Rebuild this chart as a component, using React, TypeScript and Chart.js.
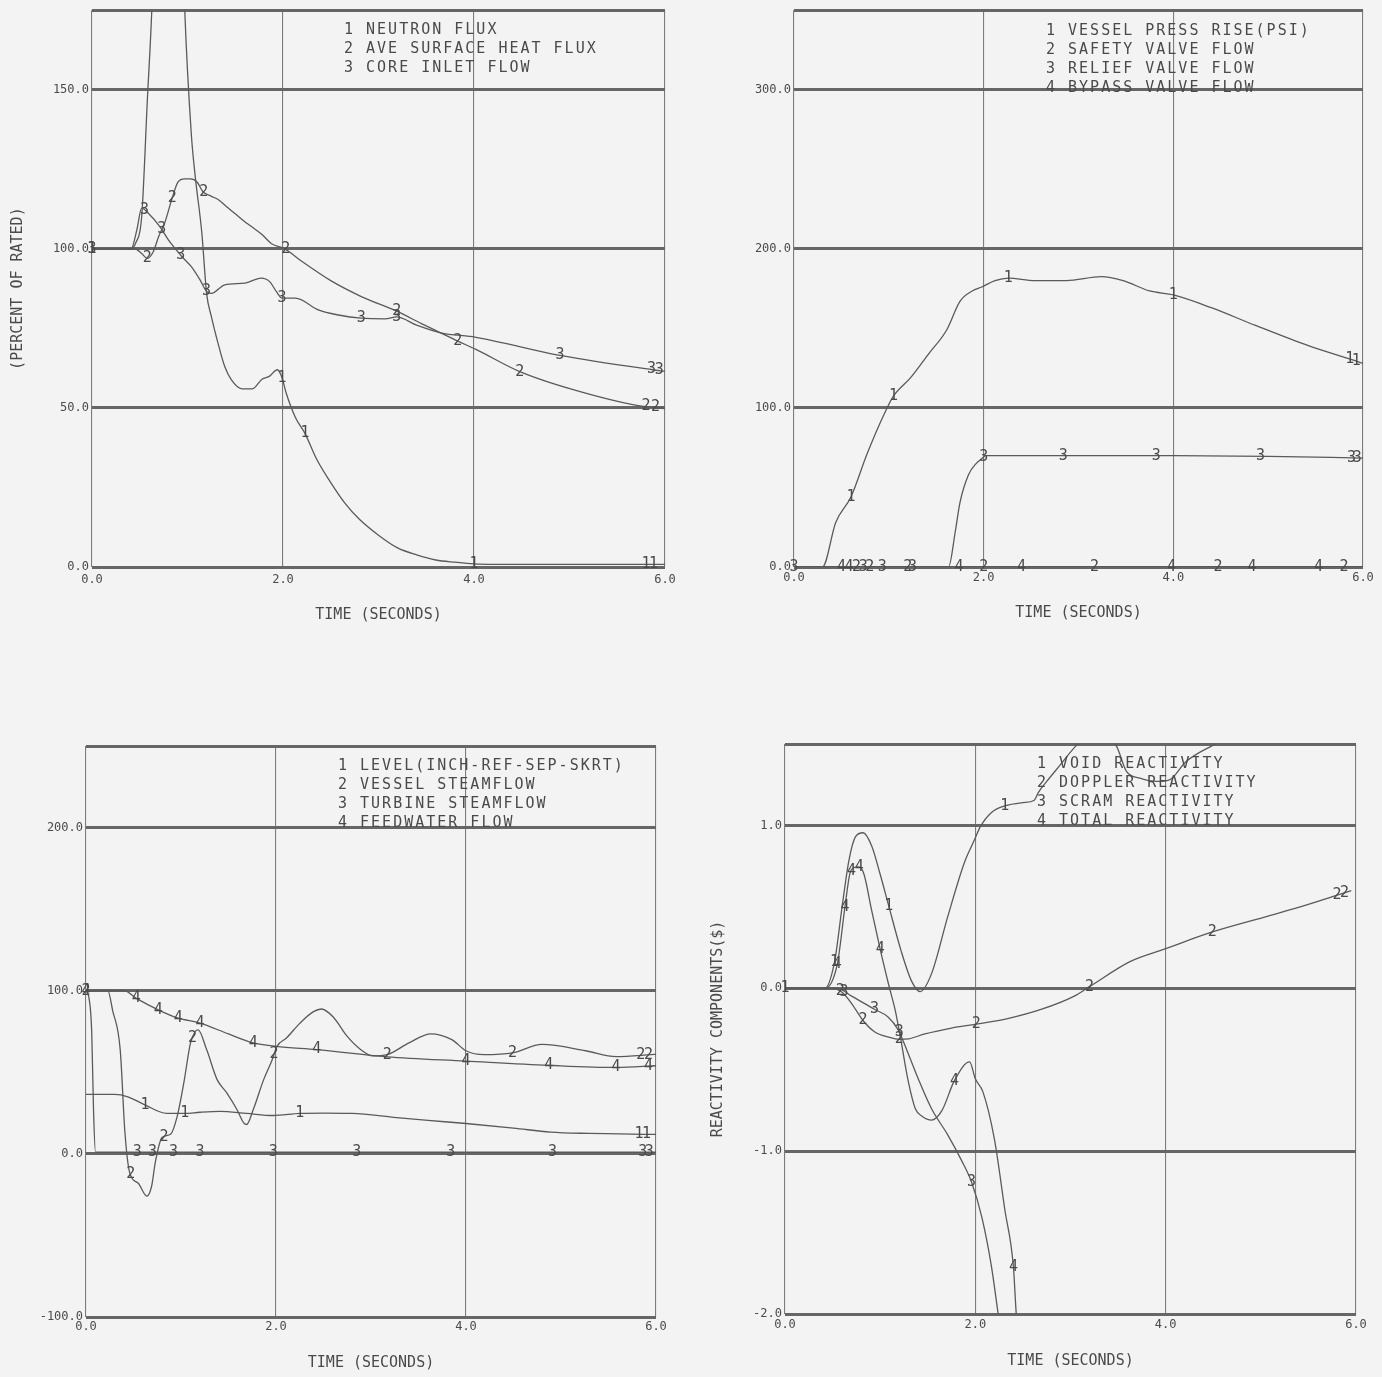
import React, { useEffect, useRef } from "react";
import { Chart, registerables } from "chart.js";

Chart.register(...registerables);

const MONO = "'DejaVu Sans Mono', 'Liberation Mono', monospace";
const INK = "#5a5a5a";
const TEXT = "#4a4a4a";
const GRID_H = "#666666";
const GRID_V = "#7c7c7c";
const PAPER = "#f3f3f3";

// ---------- shared ----------
const timeTicks = [0, 2, 4, 6];
const timeTitle = "TIME (SECONDS)";

// ---------- Panel 1 : power / flux / flow ----------
const p1Names = ["NEUTRON FLUX", "AVE SURFACE HEAT FLUX", "CORE INLET FLOW"];
const p1YTicks = [0, 50, 100, 150];
const p1YMin = 0;
const p1YMax = 175;
const p1YTitle = "(PERCENT OF RATED)";

const p1FluxT = [0, 0.4, 0.46, 0.52, 0.58, 0.63, 0.7, 0.8, 0.9, 0.97, 1.04, 1.08, 1.15, 1.2, 1.25, 1.32, 1.39, 1.46, 1.57, 1.68, 1.78, 1.86, 1.94, 1.99, 2.03, 2.13, 2.23, 2.35, 2.49, 2.65, 2.8, 3.0, 3.2, 3.4, 3.6, 3.8, 4.0, 4.5, 5.0, 5.5, 6.0];
const p1FluxV = [100, 100, 102, 110, 147, 178, 250, 320, 250, 176, 136, 123, 105, 86, 78.7, 70.3, 63, 58.8, 56, 56, 59, 60, 62, 59.5, 55, 47, 42, 34, 27, 20, 15, 10, 6, 3.8, 2.2, 1.5, 1, 0.8, 0.8, 0.8, 0.8];
const p1FluxMarks = [0, 1.99, 2.23, 4.0, 5.8, 5.88];

const p1HeatT = [0, 0.45, 0.52, 0.58, 0.64, 0.7, 0.76, 0.84, 0.9, 0.97, 1.03, 1.1, 1.16, 1.25, 1.32, 1.42, 1.5, 1.6, 1.67, 1.78, 1.88, 2.02, 2.2, 2.5, 2.82, 3.19, 3.45, 3.65, 3.83, 4.02, 4.48, 5.03, 5.72, 6.0];
const p1HeatV = [100, 100, 98.5, 97, 99, 104, 108, 116, 121, 122, 122, 121, 118, 116.5, 115.5, 113, 111, 108.5, 107, 104.5, 101.6, 100, 96, 90, 85, 80.4, 76.5, 73.6, 71, 68.4, 61.4, 55.8, 50.7, 49.8];
const p1HeatMarks = [0.58, 0.84, 1.17, 2.03, 3.19, 3.83, 4.48, 5.8, 5.9];

const p1FlowT = [0, 0.41, 0.47, 0.52, 0.59, 0.71, 0.8, 0.94, 1.04, 1.13, 1.2, 1.25, 1.39, 1.6, 1.77, 1.86, 1.93, 1.99, 2.13, 2.37, 2.58, 2.82, 3.07, 3.19, 3.4, 3.65, 4.02, 4.9, 5.87, 6.0];
const p1FlowV = [100, 100, 106, 112.8, 111.2, 107, 102.8, 97.6, 94.4, 90.3, 86.6, 86, 88.7, 89.2, 90.8, 89.7, 86.6, 84.5, 84.5, 80.8, 79.2, 78.2, 78, 78.6, 76, 73.6, 72.2, 66.5, 62, 61.5];
const p1FlowMarks = [0, 0.55, 0.73, 0.93, 1.2, 1.99, 2.82, 3.19, 4.9, 5.86, 5.94];

// ---------- Panel 2 : pressure / valves ----------
const p2Names = ["VESSEL PRESS RISE(PSI)", "SAFETY VALVE FLOW", "RELIEF VALVE FLOW", "BYPASS VALVE FLOW"];
const p2YTicks = [0, 100, 200, 300];
const p2YMin = 0;
const p2YMax = 350;

const p2PressT = [0, 0.3, 0.44, 0.6, 0.77, 0.95, 1.05, 1.23, 1.42, 1.61, 1.75, 1.88, 1.98, 2.12, 2.26, 2.54, 2.87, 3.24, 3.47, 3.75, 4.0, 4.4, 4.86, 5.43, 5.9, 6.0];
const p2PressV = [0, 0, 28, 44, 71, 96, 107.5, 119, 134, 149, 167, 173.5, 176, 180, 181.6, 180, 180, 182.5, 180, 173.5, 171, 163, 152, 139, 130, 128];
const p2PressMarks = [0.6, 1.05, 2.26, 4.0, 5.86, 5.93];

const p2SafetyT = [0, 6.0];
const p2SafetyV = [0, 0];
const p2SafetyMarks = [0.66, 0.8, 1.2, 2.0, 3.17, 4.47, 5.8];

const p2ReliefT = [0, 1.63, 1.7, 1.75, 1.84, 1.92, 1.98, 2.02, 3.0, 4.0, 5.0, 6.0];
const p2ReliefV = [0, 0, 22, 40.5, 58, 65, 68, 70, 70, 70, 69.5, 68.5];
const p2ReliefMarks = [0, 0.73, 0.93, 1.25, 2.0, 2.84, 3.82, 4.92, 5.88, 5.94];

const p2BypassT = [0, 6.0];
const p2BypassV = [0, 0];
const p2BypassMarks = [0.5, 0.58, 1.74, 2.4, 3.98, 4.83, 5.53];

// ---------- Panel 3 : level / steam / feedwater ----------
const p3Names = ["LEVEL(INCH-REF-SEP-SKRT)", "VESSEL STEAMFLOW", "TURBINE STEAMFLOW", "FEEDWATER FLOW"];
const p3YTicks = [-100, 0, 100, 200];
const p3YMin = -100;
const p3YMax = 250;

const p3LevelT = [0, 0.3, 0.44, 0.62, 0.85, 1.04, 1.2, 1.41, 1.69, 1.97, 2.25, 2.5, 2.8, 3.27, 3.6, 4.0, 4.5, 4.89, 5.3, 5.86, 6.0];
const p3LevelV = [36.4, 36.4, 35, 30, 24.8, 24.8, 25.5, 26, 24.8, 23.5, 24.8, 25, 24.8, 22.2, 20.5, 18.6, 15.8, 13.3, 12.5, 12, 12];
const p3LevelMarks = [0.62, 1.04, 2.25, 5.82, 5.9];

const p3SteamT = [0, 0.23, 0.28, 0.36, 0.41, 0.46, 0.55, 0.64, 0.69, 0.73, 0.8, 0.89, 0.96, 1.03, 1.1, 1.15, 1.18, 1.27, 1.38, 1.48, 1.59, 1.66, 1.69, 1.76, 1.87, 1.96, 2.01, 2.11, 2.25, 2.39, 2.48, 2.6, 2.75, 2.89, 3.02, 3.17, 3.4, 3.63, 3.85, 4.0, 4.19, 4.49, 4.8, 5.26, 5.58, 5.95, 6.0];
const p3SteamV = [100, 100, 88, 63.9, 12.9, -11.6, -18, -25.9, -20, -5, 10, 12, 23, 43.6, 68, 75, 76, 63.9, 45.5, 37.5, 27, 19, 18, 27, 45.5, 57.7, 65.9, 71, 80, 87, 88.8, 84, 72, 64, 60, 60.8, 68, 73.6, 70, 63.2, 60.8, 61.9, 67.1, 63.2, 59.6, 60.8, 61];
const p3SteamMarks = [0, 0.47, 0.82, 1.12, 1.98, 3.17, 4.49, 5.84, 5.92];

const p3TurbT = [0, 0.03, 0.06, 0.08, 0.1, 6.0];
const p3TurbV = [100, 96, 75, 25, 1, 1];
const p3TurbMarks = [0.54, 0.7, 0.92, 1.2, 1.97, 2.85, 3.84, 4.91, 5.86, 5.93];

const p3FeedT = [0, 0.4, 0.53, 0.76, 0.97, 1.2, 1.5, 1.76, 2.0, 2.43, 3.17, 4.0, 4.87, 5.58, 6.0];
const p3FeedV = [100, 100, 95.3, 88.3, 83.2, 80.2, 73.5, 68, 65.9, 63.9, 59.5, 56.9, 54.3, 53, 54];
const p3FeedMarks = [0, 0.53, 0.76, 0.97, 1.2, 1.76, 2.43, 4.0, 4.87, 5.58, 5.92];

// ---------- Panel 4 : reactivity ----------
const p4Names = ["VOID REACTIVITY", "DOPPLER REACTIVITY", "SCRAM REACTIVITY", "TOTAL REACTIVITY"];
const p4YTicks = [-2, -1, 0, 1];
const p4YMin = -2;
const p4YMax = 1.5;
const p4YTitle = "REACTIVITY COMPONENTS($)";

const p4VoidT = [0, 0.42, 0.52, 0.6, 0.67, 0.74, 0.82, 0.91, 1.0, 1.09, 1.22, 1.33, 1.42, 1.54, 1.71, 1.89, 1.99, 2.05, 2.17, 2.31, 2.5, 2.62, 2.66, 2.75, 2.89, 3.06, 3.25, 3.48, 3.59, 3.73, 3.9, 4.04, 4.21, 4.49, 4.8, 5.2, 5.6, 6.0];
const p4VoidV = [0, 0, 0.16, 0.5, 0.78, 0.93, 0.955, 0.875, 0.7, 0.506, 0.23, 0.044, -0.02, 0.09, 0.44, 0.78, 0.91, 0.99, 1.08, 1.12, 1.14, 1.155, 1.2, 1.27, 1.37, 1.49, 1.58, 1.49, 1.33, 1.29, 1.27, 1.28, 1.39, 1.49, 1.58, 1.68, 1.78, 1.88];
const p4VoidMarks = [0, 0.52, 1.09, 2.31];

const p4DopT = [0, 0.5, 0.6, 0.7, 0.82, 0.94, 1.09, 1.2, 1.3, 1.47, 1.75, 2.01, 2.34, 2.69, 3.04, 3.2, 3.63, 4.0, 4.49, 5.03, 5.49, 5.76, 5.95];
const p4DopV = [0, 0, -0.025, -0.094, -0.198, -0.267, -0.3, -0.313, -0.31, -0.28, -0.244, -0.22, -0.186, -0.13, -0.048, 0.01, 0.165, 0.243, 0.346, 0.436, 0.513, 0.564, 0.6];
const p4DopMarks = [0.58, 0.82, 1.2, 2.01, 3.2, 4.49, 5.8, 5.88];

const p4ScramT = [0, 0.55, 0.7, 0.94, 1.08, 1.19, 1.29, 1.4, 1.54, 1.71, 1.86, 1.96, 2.07, 2.17, 2.24, 2.3];
const p4ScramV = [0, 0, -0.048, -0.129, -0.175, -0.256, -0.394, -0.556, -0.74, -0.9, -1.063, -1.19, -1.41, -1.71, -2.0, -2.25];
const p4ScramMarks = [0.62, 0.94, 1.2, 1.96];

const p4TotalT = [0, 0.42, 0.55, 0.63, 0.68, 0.72, 0.78, 0.83, 0.91, 1.0, 1.09, 1.16, 1.22, 1.29, 1.37, 1.44, 1.54, 1.65, 1.78, 1.94, 2.0, 2.08, 2.2, 2.31, 2.4, 2.43, 2.47];
const p4TotalV = [0, 0, 0.15, 0.5, 0.7, 0.74, 0.745, 0.7, 0.48, 0.24, 0.02, -0.14, -0.325, -0.556, -0.74, -0.786, -0.81, -0.75, -0.567, -0.452, -0.556, -0.636, -0.925, -1.36, -1.71, -2.0, -2.25];
const p4TotalMarks = [0.55, 0.63, 0.7, 0.78, 1.0, 1.78, 2.4];

// ---------- panel table (built from the arrays above) ----------
type Series = { t: number[]; v: number[]; marks: number[] };
type Panel = {
  left: number; top: number; width: number; height: number;
  names: string[]; series: Series[];
  yTicks: number[]; yMin: number; yMax: number; yTitle?: string;
  yAxisW: number; padTop: number; padRight: number; xAxisH: number;
  xTickPad: number; xTitlePad: number; yTitlePad: number;
  legendDx: number; legendDy: number;
};

const panels: Panel[] = [
  {
    left: 0, top: 0, width: 690, height: 690,
    names: p1Names,
    series: [
      { t: p1FluxT, v: p1FluxV, marks: p1FluxMarks },
      { t: p1HeatT, v: p1HeatV, marks: p1HeatMarks },
      { t: p1FlowT, v: p1FlowV, marks: p1FlowMarks },
    ],
    yTicks: p1YTicks, yMin: p1YMin, yMax: p1YMax, yTitle: p1YTitle,
    yAxisW: 92, padTop: 8, padRight: 25, xAxisH: 123, xTickPad: 6, xTitlePad: 66, yTitlePad: 9,
    legendDx: 252, legendDy: 20,
  },
  {
    left: 690, top: 0, width: 692, height: 690,
    names: p2Names,
    series: [
      { t: p2PressT, v: p2PressV, marks: p2PressMarks },
      { t: p2SafetyT, v: p2SafetyV, marks: p2SafetyMarks },
      { t: p2ReliefT, v: p2ReliefV, marks: p2ReliefMarks },
      { t: p2BypassT, v: p2BypassV, marks: p2BypassMarks },
    ],
    yTicks: p2YTicks, yMin: p2YMin, yMax: p2YMax,
    yAxisW: 104, padTop: 7, padRight: 19, xAxisH: 123, xTickPad: 4, xTitlePad: 68, yTitlePad: 4,
    legendDx: 252, legendDy: 21,
  },
  {
    left: 0, top: 690, width: 690, height: 687,
    names: p3Names,
    series: [
      { t: p3LevelT, v: p3LevelV, marks: p3LevelMarks },
      { t: p3SteamT, v: p3SteamV, marks: p3SteamMarks },
      { t: p3TurbT, v: p3TurbV, marks: p3TurbMarks },
      { t: p3FeedT, v: p3FeedV, marks: p3FeedMarks },
    ],
    yTicks: p3YTicks, yMin: p3YMin, yMax: p3YMax,
    yAxisW: 86, padTop: 56, padRight: 34, xAxisH: 60, xTickPad: 3, xTitlePad: 5, yTitlePad: 4,
    legendDx: 252, legendDy: 20,
  },
  {
    left: 690, top: 690, width: 692, height: 687,
    names: p4Names,
    series: [
      { t: p4VoidT, v: p4VoidV, marks: p4VoidMarks },
      { t: p4DopT, v: p4DopV, marks: p4DopMarks },
      { t: p4ScramT, v: p4ScramV, marks: p4ScramMarks },
      { t: p4TotalT, v: p4TotalV, marks: p4TotalMarks },
    ],
    yTicks: p4YTicks, yMin: p4YMin, yMax: p4YMax, yTitle: p4YTitle,
    yAxisW: 95, padTop: 54, padRight: 26, xAxisH: 63, xTickPad: 4, xTitlePad: 7, yTitlePad: 19.5,
    legendDx: 252, legendDy: 20.5,
  },
];

// ---------- plugins ----------
function interpAt(data: { x: number; y: number }[], x: number): number {
  if (x <= data[0].x) return data[0].y;
  for (let i = 1; i < data.length; i++) {
    const a = data[i - 1], b = data[i];
    if (x <= b.x) {
      const f = (x - a.x) / (b.x - a.x || 1);
      return a.y + f * (b.y - a.y);
    }
  }
  return data[data.length - 1].y;
}

const curveNumbers = {
  id: "curveNumbers",
  afterDatasetsDraw(chart: any) {
    const { ctx, chartArea, scales } = chart;
    ctx.save();
    ctx.font = `15px ${MONO}`;
    ctx.fillStyle = TEXT;
    ctx.textAlign = "center";
    ctx.textBaseline = "middle";
    chart.data.datasets.forEach((ds: any) => {
      (ds.marks || []).forEach((m: number) => {
        const val = interpAt(ds.data, m);
        const px = scales.x.getPixelForValue(m);
        const py = scales.y.getPixelForValue(val);
        if (py < chartArea.top - 2 || py > chartArea.bottom + 2) return;
        ctx.fillText(ds.label, px, py);
      });
    });
    ctx.restore();
  },
};

const plotLegend = {
  id: "plotLegend",
  afterDraw(chart: any, _args: any, opts: any) {
    const lines: string[] = opts.lines || [];
    const { ctx, chartArea } = chart;
    ctx.save();
    ctx.font = `15px ${MONO}`;
    try { (ctx as any).letterSpacing = "2px"; } catch (e) { /* ignore */ }
    ctx.fillStyle = TEXT;
    ctx.textAlign = "left";
    ctx.textBaseline = "middle";
    lines.forEach((l, i) => {
      ctx.fillText(l, chartArea.left + opts.dx, chartArea.top + opts.dy + i * opts.lh);
    });
    ctx.restore();
  },
};

function makeChart(canvas: HTMLCanvasElement, p: Panel) {
  const datasets = p.series.map((s, i) => ({
    label: String(i + 1),
    data: s.t.map((t, k) => ({ x: t, y: s.v[k] })),
    marks: s.marks,
    borderColor: INK,
    borderWidth: 1.3,
    pointRadius: 0,
    fill: false,
    cubicInterpolationMode: "monotone",
  }));
  return new Chart(canvas, {
    type: "line",
    data: { datasets } as any,
    plugins: [curveNumbers, plotLegend] as any,
    options: {
      animation: false,
      responsive: false,
      events: [],
      layout: { padding: { top: p.padTop, right: p.padRight, left: 0, bottom: 0 } },
      plugins: {
        legend: { display: false },
        tooltip: { enabled: false },
        plotLegend: {
          lines: p.names.map((n, i) => `${i + 1} ${n}`),
          dx: p.legendDx,
          dy: p.legendDy,
          lh: 18.9,
        },
      } as any,
      scales: {
        x: {
          type: "linear",
          min: 0,
          max: 6,
          afterBuildTicks: (sc: any) => {
            sc.ticks = timeTicks.map((v) => ({ value: v }));
          },
          afterFit: (sc: any) => {
            sc.height = p.xAxisH;
          },
          ticks: {
            callback: (v: any) => Number(v).toFixed(1),
            font: { family: MONO, size: 12 },
            color: TEXT,
            padding: p.xTickPad,
            maxRotation: 0,
            autoSkip: false,
          },
          grid: { color: GRID_V, lineWidth: 1.1, drawTicks: false },
          border: { display: false },
          title: {
            display: true,
            text: timeTitle,
            font: { family: MONO, size: 15 },
            color: TEXT,
            padding: { top: 0, bottom: p.xTitlePad },
          },
        },
        y: {
          type: "linear",
          min: p.yMin,
          max: p.yMax,
          afterBuildTicks: (sc: any) => {
            sc.ticks = [...p.yTicks, p.yMax].map((v) => ({ value: v }));
          },
          afterFit: (sc: any) => {
            sc.width = p.yAxisW;
          },
          ticks: {
            callback: (v: any) => (p.yTicks.includes(Number(v)) ? Number(v).toFixed(1) : ""),
            font: { family: MONO, size: 12 },
            color: TEXT,
            padding: 3,
            autoSkip: false,
          },
          grid: { color: GRID_H, lineWidth: 3, drawTicks: false },
          border: { display: false },
          title: {
            display: !!p.yTitle,
            text: p.yTitle || "",
            font: { family: MONO, size: 15 },
            color: TEXT,
            padding: { top: p.yTitlePad, bottom: 0 },
          },
        },
      },
    } as any,
  });
}

function PanelChart({ p }: { p: Panel }) {
  const ref = useRef<HTMLCanvasElement | null>(null);
  useEffect(() => {
    if (!ref.current) return;
    const chart = makeChart(ref.current, p);
    return () => chart.destroy();
  }, [p]);
  return (
    <canvas
      ref={ref}
      width={p.width}
      height={p.height}
      style={{ position: "absolute", left: p.left, top: p.top, width: p.width, height: p.height }}
    />
  );
}

export default function App() {
  return (
    <div
      style={{
        position: "absolute",
        left: 0,
        top: 0,
        width: 1382,
        height: 1377,
        background: PAPER,
        overflow: "hidden",
      }}
    >
      {panels.map((p, i) => (
        <PanelChart key={i} p={p} />
      ))}
    </div>
  );
}
